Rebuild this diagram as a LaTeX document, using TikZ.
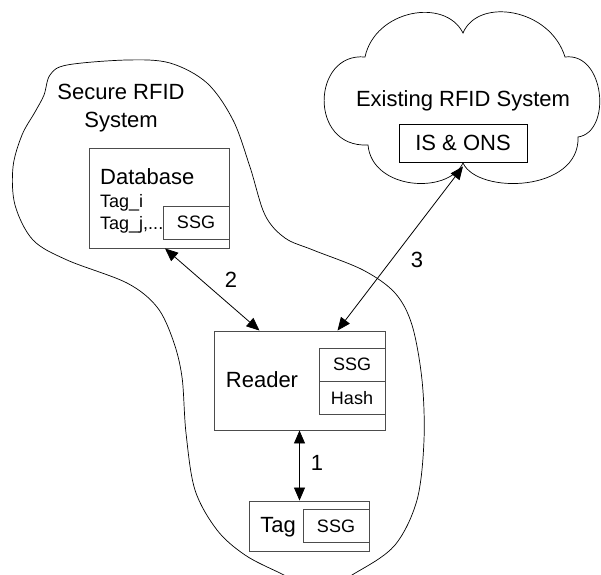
\documentclass[tikz,border=0pt]{standalone}
\usepackage{fontspec}
\setmainfont{Liberation Sans}
\usetikzlibrary{arrows.meta}

\tikzset{
  every node/.style={inner sep=0pt},
  box/.style={draw=black!70, line width=0.9pt, rectangle},
  subbox/.style={box, minimum width=66pt, minimum height=33pt, font=\fontsize{18}{20}\selectfont},
  big/.style={font=\fontsize{22}{28}\selectfont},
  small/.style={font=\fontsize{18}{21}\selectfont},
  outline/.style={line width=0.7pt},
  link/.style={line width=0.8pt, {Triangle[length=13pt,width=11pt]}-{Triangle[length=13pt,width=11pt]}},
}

\begin{document}
\begin{tikzpicture}[x=1pt,y=-1pt]
\useasboundingbox (0,0) rectangle (601,574);

\begin{scope}
\clip (0,0) rectangle (601,574);
% secure system outline
\draw[outline] plot[smooth cycle, tension=0.55] coordinates {
  (127,60) (170,63) (207,83) (233,120) (250,167) (265,215) (285,238)
  (313,250) (363,270) (395,293) (412,325) (422,380) (424,440) (417,500)
  (395,545) (357,572) (318,590) (280,573) (245,555) (217,530) (195,490)
  (186,433) (182,377) (173,340) (157,307) (127,283) (67,260) (33,240)
  (15,205) (13,167) (22,135) (35,112) (44,95) (50,75) (67,65)};
% existing system cloud
\draw[outline] (365,57) .. controls (375,10) and (445,-3) .. (463,33)
  .. controls (478,-3) and (550,8) .. (565,57)
  .. controls (605,52) and (612,132) .. (578,137)
  .. controls (580,192) and (478,195) .. (463,163)
  .. controls (448,195) and (372,190) .. (368,145)
  .. controls (308,148) and (312,52) .. cycle;
\end{scope}
\node[big, align=center] (secure) at (121,108) {Secure RFID\\System};
\node[big, anchor=base] (exist) at (463,106) {Existing RFID System};
\node[box, draw=black, minimum width=128pt, minimum height=38pt, big] (isons) at (463,143) {IS \& ONS};

% database
\node[box, minimum width=140pt, minimum height=100pt] (db) at (159,198) {};
\node[big, anchor=base west] (dbname) at (100,184) {Database};
\node[small, anchor=base west] (tagi) at (100,207) {Tag\_i};
\node[small, anchor=base west] (tagj) at (100,229) {Tag\_j,...};
\node[subbox, anchor=south east] (dbssg) at ([yshift=9pt]db.south east) {SSG};

% reader
\node[box, minimum width=171pt, minimum height=99pt] (reader) at (299.5,380.5) {};
\node[big, anchor=base] (rdname) at (262,387) {Reader};
\node[subbox, anchor=north east] (rdssg) at ([yshift=-17pt]reader.north east) {SSG};
\node[subbox, anchor=north east] (rdhash) at (rdssg.south east) {Hash};

% tag
\node[box, minimum width=120pt, minimum height=50pt] (tag) at (309,526) {};
\node[big, anchor=base] (tagname) at (278,532) {Tag};
\node[subbox, anchor=east] (tagssg) at (tag.east) {SSG};

% links
\draw[link] ([xshift=6pt]db.south) -- ([xshift=-40pt]reader.north);
\draw[link] ([xshift=38pt]reader.north) -- ([yshift=-4pt]isons.south);
\draw[link] (reader.south) -- (reader.south |- tag.north);
\node[big] (lab1) at (317,463) {1};
\node[big] (lab2) at (231,280) {2};
\node[big] (lab3) at (417,260) {3};
\end{tikzpicture}
\end{document}
